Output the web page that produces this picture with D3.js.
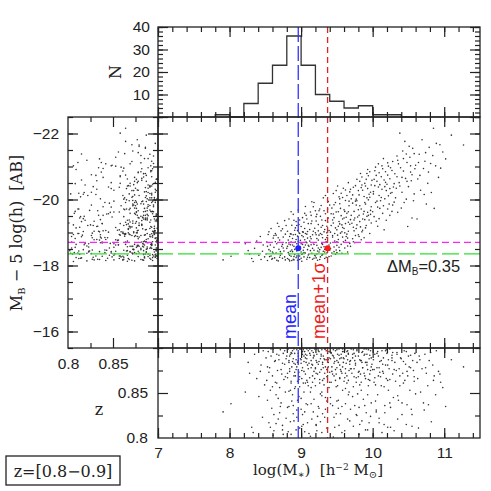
<!DOCTYPE html>
<html>
<head>
<meta charset="utf-8">
<script src="https://cdn.jsdelivr.net/npm/d3@7"></script>
<style>
  body { margin: 0; background: #fff; }
  text { white-space: pre; }
</style>
</head>
<body>
<div id="chart"></div>
<script>
// mass histogram of the galaxies inside the magnitude bin
const histBinStart = [7.8, 8.0, 8.2, 8.4, 8.6, 8.8, 9.0, 9.2, 9.4, 9.6, 9.8, 10.0, 10.2, 10.4];
const histCounts = [1, 0, 6, 15, 23, 36, 23, 10, 7, 4, 5, 1, 1, 0];
const histBinWidth = 0.2;

const meanMass = 8.96;
const meanPlusSigmaMass = 9.37;
const binCentreMag = -18.52;
const binBrightMag = -18.70;
const binFaintMag = -18.35;

const massTicks = [7, 8, 9, 10, 11];
const magTicks = [-22, -20, -18, -16];
const countTicks = [10, 20, 30, 40];
const zTicks = [0.8, 0.85];

// galaxies: [log mass, M_B - 5 log h, z]
const galaxies = [
  [7.91, -18.17, 0.829], [8.02, -18.28, 0.838], [8.22, -18.66, 0.851], [8.28, -18.35, 0.872], [8.31, -18.21, 0.812],
  [8.35, -18.52, 0.893], [8.38, -18.74, 0.866], [8.41, -18.31, 0.846], [8.44, -18.18, 0.881], [8.46, -18.43, 0.823],
  [8.47, -18.62, 0.897], [8.49, -18.26, 0.859], [8.33, -18.12, 0.806], [8.26, -18.45, 0.884], [8.43, -18.88, 0.874],
  [8.51, -18.35, 0.889], [8.52, -18.71, 0.864], [8.53, -18.15, 0.842], [8.54, -18.94, 0.896], [8.55, -18.48, 0.817],
  [8.56, -18.27, 0.878], [8.57, -18.62, 0.853], [8.58, -19.12, 0.891], [8.59, -18.19, 0.833], [8.60, -18.41, 0.869],
  [8.61, -18.83, 0.899], [8.62, -18.55, 0.808], [8.63, -18.23, 0.885], [8.64, -18.97, 0.862], [8.65, -18.38, 0.848],
  [8.66, -18.66, 0.893], [8.67, -19.28, 0.875], [8.68, -18.14, 0.821], [8.69, -18.49, 0.887], [8.70, -18.77, 0.856],
  [8.71, -18.31, 0.898], [8.72, -19.05, 0.839], [8.73, -18.58, 0.871], [8.74, -18.22, 0.814], [8.75, -18.86, 0.894],
  [8.76, -18.44, 0.865], [8.77, -19.36, 0.882], [8.78, -18.17, 0.851], [8.79, -18.69, 0.888], [8.55, -19.02, 0.873],
  [8.58, -18.29, 0.899], [8.62, -18.91, 0.826], [8.66, -18.16, 0.861], [8.69, -19.18, 0.892], [8.72, -18.36, 0.876],
  [8.75, -18.53, 0.804], [8.78, -18.95, 0.868], [8.53, -18.58, 0.879], [8.64, -18.72, 0.886], [8.71, -18.42, 0.835],
  [8.77, -18.26, 0.897], [8.60, -18.21, 0.857], [8.68, -18.84, 0.844], [8.74, -19.11, 0.883], [8.57, -18.44, 0.812],
  [8.80, -18.52, 0.891], [8.81, -18.21, 0.867], [8.81, -19.04, 0.834], [8.82, -18.77, 0.899], [8.83, -18.35, 0.852],
  [8.83, -19.41, 0.886], [8.84, -18.14, 0.874], [8.85, -18.63, 0.818], [8.85, -18.96, 0.893], [8.86, -18.28, 0.861],
  [8.87, -19.22, 0.879], [8.87, -18.47, 0.841], [8.88, -18.82, 0.897], [8.89, -18.19, 0.827], [8.89, -19.55, 0.888],
  [8.90, -18.58, 0.869], [8.91, -18.33, 0.894], [8.91, -19.07, 0.855], [8.92, -18.71, 0.882], [8.93, -18.24, 0.809],
  [8.93, -19.33, 0.876], [8.94, -18.44, 0.898], [8.95, -18.89, 0.863], [8.95, -18.16, 0.884], [8.96, -19.68, 0.891],
  [8.97, -18.53, 0.846], [8.97, -18.99, 0.873], [8.98, -18.29, 0.857], [8.99, -18.76, 0.899], [9.00, -19.18, 0.832],
  [9.00, -18.41, 0.887], [9.01, -18.13, 0.866], [9.02, -18.64, 0.893], [9.02, -19.45, 0.878], [9.03, -18.87, 0.815],
  [9.04, -18.26, 0.885], [9.04, -18.55, 0.851], [9.05, -19.12, 0.896], [9.06, -18.38, 0.871], [9.06, -19.79, 0.889],
  [9.07, -18.71, 0.838], [9.08, -18.19, 0.892], [9.08, -18.95, 0.864], [9.09, -18.48, 0.881], [9.10, -19.27, 0.858],
  [9.10, -18.32, 0.897], [8.82, -18.39, 0.807], [8.84, -18.88, 0.877], [8.86, -19.63, 0.895], [8.88, -18.42, 0.848],
  [8.90, -18.17, 0.883], [8.92, -19.14, 0.869], [8.94, -18.66, 0.823], [8.96, -18.35, 0.886], [8.98, -19.38, 0.899],
  [9.00, -18.22, 0.844], [9.01, -18.91, 0.875], [9.03, -18.46, 0.898], [9.05, -18.78, 0.829], [9.07, -19.52, 0.884],
  [9.09, -18.25, 0.862], [8.83, -18.65, 0.884], [8.87, -18.15, 0.894], [8.91, -18.49, 0.873], [8.95, -19.06, 0.842],
  [8.99, -18.56, 0.888], [9.03, -19.01, 0.861], [9.06, -18.62, 0.893], [9.09, -19.03, 0.817], [8.85, -18.43, 0.853],
  [8.93, -18.79, 0.887], [9.01, -18.34, 0.813], [9.08, -18.69, 0.899], [8.97, -19.24, 0.865], [8.89, -18.93, 0.836],
  [9.04, -19.31, 0.891],
  [9.11, -18.58, 0.883], [9.12, -19.09, 0.867], [9.12, -18.24, 0.894], [9.13, -19.62, 0.851], [9.14, -18.81, 0.878],
  [9.15, -18.37, 0.821], [9.15, -19.35, 0.897], [9.16, -18.19, 0.862], [9.17, -18.69, 0.889], [9.18, -19.91, 0.874],
  [9.18, -18.46, 0.843], [9.19, -19.13, 0.899], [9.20, -18.29, 0.858], [9.21, -18.93, 0.886], [9.21, -19.48, 0.814],
  [9.22, -18.61, 0.893], [9.23, -18.16, 0.871], [9.24, -19.24, 0.882], [9.24, -18.77, 0.835], [9.25, -18.41, 0.896],
  [9.26, -19.71, 0.865], [9.27, -18.97, 0.888], [9.27, -18.26, 0.849], [9.28, -18.55, 0.876], [9.29, -19.38, 0.898],
  [9.30, -18.84, 0.827], [9.30, -18.33, 0.884], [9.31, -20.05, 0.891], [9.32, -19.02, 0.859], [9.33, -18.49, 0.872],
  [9.33, -18.21, 0.899], [9.34, -19.57, 0.845], [9.35, -18.72, 0.887], [9.36, -19.19, 0.868], [9.36, -18.38, 0.811],
  [9.37, -18.91, 0.894], [9.38, -19.44, 0.879], [9.39, -18.62, 0.856], [9.39, -18.27, 0.889], [9.40, -19.83, 0.873],
  [9.11, -18.35, 0.805], [9.13, -18.87, 0.892], [9.14, -19.27, 0.838], [9.16, -18.52, 0.881], [9.17, -19.78, 0.895],
  [9.19, -18.31, 0.866], [9.20, -18.99, 0.877], [9.22, -19.55, 0.899], [9.23, -18.44, 0.824], [9.25, -18.92, 0.885],
  [9.26, -18.18, 0.861], [9.28, -19.16, 0.893], [9.29, -18.67, 0.847], [9.31, -18.43, 0.878], [9.32, -19.66, 0.888],
  [9.34, -18.79, 0.832], [9.35, -18.25, 0.897], [9.37, -19.32, 0.869], [9.38, -18.56, 0.884], [9.14, -18.63, 0.856],
  [9.18, -18.22, 0.891], [9.21, -19.35, 0.872], [9.24, -18.53, 0.899], [9.27, -19.49, 0.818], [9.30, -18.64, 0.864],
  [9.33, -19.09, 0.887], [9.36, -18.85, 0.841], [9.39, -19.06, 0.896], [9.15, -19.93, 0.882], [9.29, -18.31, 0.851],
  [9.34, -20.12, 0.879], [9.22, -18.82, 0.808],
  [9.41, -18.51, 0.888], [9.42, -19.21, 0.862], [9.42, -18.29, 0.895], [9.43, -19.74, 0.874], [9.44, -18.86, 0.836],
  [9.45, -20.18, 0.891], [9.46, -18.42, 0.869], [9.46, -19.45, 0.883], [9.47, -18.97, 0.812], [9.48, -18.34, 0.897],
  [9.49, -19.62, 0.857], [9.50, -19.08, 0.886], [9.50, -18.61, 0.878], [9.51, -20.41, 0.893], [9.52, -18.79, 0.842],
  [9.53, -19.33, 0.899], [9.54, -18.45, 0.866], [9.54, -19.87, 0.881], [9.55, -18.98, 0.827], [9.56, -19.51, 0.889],
  [9.57, -18.37, 0.872], [9.58, -20.06, 0.896], [9.58, -19.15, 0.853], [9.59, -18.72, 0.884], [9.60, -19.69, 0.863],
  [9.61, -18.53, 0.898], [9.62, -20.29, 0.877], [9.62, -19.27, 0.838], [9.63, -18.88, 0.891], [9.64, -19.58, 0.869],
  [9.65, -18.41, 0.887], [9.66, -20.51, 0.848], [9.66, -19.04, 0.894], [9.67, -19.81, 0.875], [9.68, -18.67, 0.819],
  [9.69, -19.39, 0.886], [9.70, -20.02, 0.899], [9.41, -19.01, 0.845], [9.43, -18.38, 0.879], [9.45, -19.56, 0.898],
  [9.47, -18.74, 0.885], [9.49, -20.27, 0.871], [9.51, -18.92, 0.858], [9.53, -18.55, 0.892], [9.55, -19.73, 0.876],
  [9.57, -19.23, 0.806], [9.59, -20.34, 0.889], [9.61, -18.99, 0.867], [9.63, -19.46, 0.883], [9.65, -18.83, 0.897],
  [9.67, -19.95, 0.851], [9.69, -18.58, 0.877], [9.44, -19.38, 0.892], [9.48, -19.91, 0.864], [9.52, -19.19, 0.833],
  [9.56, -18.64, 0.874], [9.60, -19.12, 0.896], [9.64, -20.12, 0.861], [9.68, -19.25, 0.882], [9.46, -18.56, 0.823],
  [9.54, -20.02, 0.888], [9.62, -18.76, 0.855], [9.58, -19.41, 0.899], [9.50, -18.39, 0.841], [9.66, -19.63, 0.893],
  [9.71, -19.28, 0.872], [9.72, -18.81, 0.889], [9.73, -20.37, 0.857], [9.74, -19.64, 0.894], [9.75, -18.69, 0.836],
  [9.76, -19.95, 0.883], [9.77, -19.12, 0.867], [9.78, -20.61, 0.898], [9.79, -19.47, 0.849], [9.80, -18.93, 0.891],
  [9.81, -20.14, 0.874], [9.82, -19.33, 0.815], [9.83, -20.79, 0.886], [9.84, -19.71, 0.862], [9.85, -19.02, 0.895],
  [9.86, -20.28, 0.878], [9.87, -19.56, 0.843], [9.88, -18.84, 0.899], [9.89, -20.49, 0.869], [9.90, -19.86, 0.884],
  [9.91, -19.21, 0.828], [9.92, -20.05, 0.893], [9.93, -19.61, 0.876], [9.94, -20.72, 0.858], [9.95, -19.38, 0.888],
  [9.96, -18.97, 0.864], [9.97, -20.22, 0.897], [9.98, -19.78, 0.839], [9.99, -20.58, 0.882], [9.72, -19.89, 0.846],
  [9.74, -19.05, 0.877], [9.76, -20.42, 0.891], [9.78, -19.23, 0.825], [9.80, -19.69, 0.868], [9.82, -20.55, 0.887],
  [9.84, -18.78, 0.853], [9.86, -19.41, 0.896], [9.88, -20.09, 0.872], [9.90, -19.14, 0.809], [9.92, -19.49, 0.881],
  [9.94, -19.99, 0.865], [9.96, -20.84, 0.892], [9.98, -19.29, 0.879], [9.73, -18.72, 0.898], [9.77, -20.01, 0.862],
  [9.81, -19.52, 0.834], [9.85, -20.68, 0.884], [9.89, -19.91, 0.893], [9.93, -20.33, 0.848], [9.97, -19.55, 0.875],
  [9.75, -19.44, 0.886], [9.83, -19.17, 0.871], [9.91, -20.61, 0.899], [9.95, -20.16, 0.817],
  [10.01, -20.24, 0.887], [10.02, -19.48, 0.862], [10.03, -20.87, 0.893], [10.04, -19.91, 0.841], [10.06, -20.55, 0.878],
  [10.07, -19.19, 0.896], [10.08, -21.08, 0.869], [10.09, -20.12, 0.822], [10.10, -19.73, 0.885], [10.12, -20.69, 0.858],
  [10.13, -20.31, 0.897], [10.14, -19.58, 0.874], [10.15, -21.24, 0.889], [10.17, -20.02, 0.836], [10.18, -20.84, 0.881],
  [10.19, -19.37, 0.866], [10.20, -20.46, 0.894], [10.22, -21.01, 0.853], [10.23, -19.86, 0.877], [10.24, -20.63, 0.899],
  [10.25, -20.19, 0.812], [10.27, -19.64, 0.886], [10.28, -21.15, 0.871], [10.29, -20.38, 0.845], [10.02, -20.61, 0.876],
  [10.05, -19.34, 0.829], [10.08, -20.38, 0.891], [10.11, -19.96, 0.868], [10.14, -20.93, 0.882], [10.16, -19.08, 0.857],
  [10.19, -20.27, 0.898], [10.21, -20.74, 0.864], [10.24, -19.52, 0.839], [10.27, -20.88, 0.892], [10.04, -20.98, 0.859],
  [10.10, -20.45, 0.873], [10.16, -20.59, 0.815], [10.22, -20.11, 0.887], [10.28, -19.83, 0.895], [10.07, -19.77, 0.848],
  [10.31, -20.78, 0.884], [10.32, -20.05, 0.863], [10.34, -21.32, 0.895], [10.35, -19.61, 0.847], [10.37, -20.51, 0.877],
  [10.38, -22.01, 0.858], [10.39, -20.96, 0.889], [10.41, -20.22, 0.826], [10.42, -21.47, 0.872], [10.44, -19.91, 0.897],
  [10.45, -21.76, 0.864], [10.46, -20.64, 0.882], [10.48, -21.12, 0.837], [10.49, -19.18, 0.869], [10.50, -20.39, 0.891],
  [10.52, -21.28, 0.853], [10.53, -20.83, 0.878], [10.55, -19.44, 0.813], [10.56, -21.55, 0.886], [10.58, -20.17, 0.868],
  [10.59, -20.93, 0.894], [10.33, -20.34, 0.875], [10.36, -21.08, 0.842], [10.40, -19.74, 0.888], [10.43, -20.86, 0.861],
  [10.47, -20.01, 0.896], [10.51, -21.61, 0.879], [10.54, -20.57, 0.832], [10.57, -19.96, 0.875], [10.60, -21.04, 0.849],
  [10.62, -19.41, 0.884], [10.63, -20.62, 0.866], [10.65, -21.37, 0.891], [10.67, -20.28, 0.851], [10.69, -21.81, 0.877],
  [10.71, -20.94, 0.839], [10.73, -21.16, 0.893], [10.75, -19.86, 0.872], [10.77, -20.49, 0.858], [10.79, -21.58, 0.886],
  [10.82, -20.21, 0.818], [10.84, -21.33, 0.881], [10.85, -22.16, 0.864], [10.86, -19.73, 0.869], [10.88, -21.02, 0.848],
  [10.89, -21.70, 0.897], [10.92, -20.67, 0.874], [10.95, -20.95, 0.862], [11.02, -21.23, 0.835], [11.10, -21.95, 0.887],
  [11.27, -21.65, 0.879], [10.98, -21.44, 0.856], [10.72, -20.15, 0.831],
  [8.61, -18.37, 0.803], [8.65, -18.92, 0.816], [8.70, -18.25, 0.828], [8.74, -18.64, 0.809], [8.79, -19.21, 0.822],
  [8.83, -18.18, 0.835], [8.86, -18.71, 0.804], [8.90, -19.37, 0.819], [8.94, -18.29, 0.831], [8.98, -18.97, 0.811],
  [9.02, -18.36, 0.826], [9.05, -19.58, 0.807], [9.09, -18.83, 0.837], [9.13, -18.45, 0.802], [9.17, -19.04, 0.829],
  [9.21, -18.23, 0.815], [9.25, -19.66, 0.833], [9.29, -18.94, 0.806], [9.33, -18.41, 0.823], [9.37, -19.71, 0.811],
  [9.41, -18.68, 0.838], [9.45, -19.29, 0.801], [9.49, -18.47, 0.827], [9.53, -20.08, 0.814], [9.57, -19.02, 0.835],
  [9.61, -19.64, 0.808], [9.65, -18.59, 0.821], [9.69, -20.31, 0.832], [9.73, -19.16, 0.813], [9.77, -19.83, 0.826],
  [9.81, -18.88, 0.804], [9.85, -20.44, 0.819], [9.89, -19.39, 0.836], [9.93, -20.91, 0.809], [9.97, -19.67, 0.824],
  [10.01, -20.17, 0.803], [10.05, -20.73, 0.831], [10.09, -19.42, 0.817], [10.13, -21.02, 0.806], [10.17, -20.39, 0.828],
  [10.21, -19.71, 0.812], [10.25, -20.96, 0.834], [10.30, -20.48, 0.808], [10.35, -21.19, 0.821], [10.41, -20.67, 0.839],
  [10.47, -21.38, 0.815], [10.55, -20.75, 0.826], [10.64, -21.12, 0.811], [10.78, -20.83, 0.837],
  [8.81, -18.58, 0.872], [8.84, -18.31, 0.891], [8.86, -18.95, 0.863], [8.88, -18.62, 0.885], [8.90, -18.27, 0.899],
  [8.92, -18.94, 0.857], [8.94, -19.21, 0.879], [8.96, -18.72, 0.894], [8.98, -18.18, 0.868], [9.00, -18.66, 0.883],
  [9.02, -19.02, 0.896], [9.04, -18.39, 0.874], [9.06, -18.97, 0.861], [9.08, -19.41, 0.888], [9.10, -18.61, 0.877],
  [9.12, -18.74, 0.899], [9.14, -19.52, 0.886], [9.16, -18.93, 0.869], [9.18, -18.64, 0.892], [9.20, -19.66, 0.878],
  [9.22, -18.35, 0.884], [9.24, -19.05, 0.897], [9.26, -18.48, 0.873], [9.28, -19.82, 0.891], [9.30, -19.21, 0.882],
  [9.32, -18.57, 0.866], [9.34, -19.36, 0.899], [9.36, -18.99, 0.876], [9.38, -19.94, 0.887], [9.40, -18.46, 0.862],
  [9.42, -19.57, 0.894], [9.44, -18.91, 0.871], [9.46, -19.84, 0.889], [9.48, -19.14, 0.876], [9.50, -18.72, 0.898],
  [9.52, -19.63, 0.884], [9.54, -19.26, 0.867], [9.56, -20.19, 0.893], [9.58, -18.86, 0.879], [9.60, -19.44, 0.888],
  [9.62, -19.97, 0.872], [9.64, -18.95, 0.896], [9.66, -19.31, 0.864], [9.68, -20.23, 0.885], [9.70, -19.52, 0.877],
  [9.72, -20.14, 0.893], [9.74, -19.38, 0.868], [9.76, -18.91, 0.881], [9.78, -19.96, 0.897], [9.80, -20.27, 0.873],
  [9.82, -19.81, 0.859], [9.84, -20.36, 0.886], [9.86, -19.07, 0.878], [9.88, -19.64, 0.892], [9.90, -20.41, 0.866],
  [9.92, -20.79, 0.884], [9.94, -19.52, 0.898], [9.96, -20.07, 0.871], [9.98, -20.44, 0.889], [10.00, -19.63, 0.876],
  [10.03, -20.42, 0.867], [10.06, -19.95, 0.894], [10.09, -20.81, 0.878], [10.12, -20.06, 0.886], [10.15, -19.81, 0.872],
  [10.18, -20.52, 0.897], [10.21, -21.11, 0.881], [10.24, -20.33, 0.865], [10.27, -20.21, 0.889], [10.30, -19.92, 0.876],
  [10.34, -20.69, 0.893], [10.38, -20.41, 0.869], [10.43, -21.24, 0.885], [10.48, -20.55, 0.874], [10.53, -21.02, 0.892],
  [10.58, -21.39, 0.863], [10.66, -20.73, 0.887], [10.74, -21.42, 0.878], [10.81, -21.09, 0.895], [10.94, -21.66, 0.871],
];

const ink = '#222';
const serif = 'DejaVu Serif';
const sans = 'Liberation Sans';

const svg = d3.select('#chart').append('svg')
    .attr('width', 491)
    .attr('height', 491)
    .style('background', '#fff');

const xMass = d3.scaleLinear().domain([7, 11.5]).range([158, 480]);
const yMag = d3.scaleLinear().domain([-22.5, -15.5]).range([117, 348]);
const yN = d3.scaleLinear().domain([0, 40]).range([117, 27]);
const xZ = d3.scaleLinear().domain([0.8, 0.9]).range([68, 158]);
const yZ = d3.scaleLinear().domain([0.8, 0.9]).range([438, 348]);

const massMinor = d3.range(7, 11.51, 0.2);
const magMinor = d3.range(-22.5, -15.49, 0.5);
const zMinor = [0.825, 0.875];

// points
function scatter(xs, ys, fx, fy) {
  svg.append('g').selectAll('circle')
      .data(galaxies)
      .join('circle')
      .attr('cx', (d) => xs(fx(d)))
      .attr('cy', (d) => ys(fy(d)))
      .attr('r', 0.8)
      .attr('fill', '#333');
}
scatter(xMass, yMag, (d) => d[0], (d) => d[1]);
scatter(xZ, yMag, (d) => d[2], (d) => d[1]);
scatter(xMass, yZ, (d) => d[0], (d) => d[2]);

// histogram
const histPts = [[histBinStart[0], 0]]
    .concat(histBinStart.map((b, i) => [b, histCounts[i]]))
    .concat([[histBinStart[histBinStart.length - 1] + histBinWidth, 0]]);
svg.append('path')
    .attr('d', d3.line().x((d) => xMass(d[0])).y((d) => yN(d[1])).curve(d3.curveStepAfter)(histPts))
    .attr('fill', 'none')
    .attr('stroke', '#333')
    .attr('stroke-width', 1.3);

// reference lines
function vline(m, color, dash) {
  svg.append('line')
      .attr('x1', xMass(m)).attr('x2', xMass(m))
      .attr('y1', yN(40)).attr('y2', yZ(0.8))
      .attr('stroke', color).attr('stroke-width', 1.3)
      .attr('stroke-dasharray', dash);
}
function hline(mag, color, dash) {
  svg.append('line')
      .attr('x1', xZ(0.8)).attr('x2', xMass(11.5))
      .attr('y1', yMag(mag)).attr('y2', yMag(mag))
      .attr('stroke', color).attr('stroke-width', 1.3)
      .attr('stroke-dasharray', dash);
}
hline(binBrightMag, '#ff22ff', '7,4');
hline(binFaintMag, '#2ee02e', '17,5');
vline(meanMass, '#3333ff', '15,4');
vline(meanPlusSigmaMass, '#e02222', '6,4');

svg.append('circle').attr('cx', xMass(meanMass)).attr('cy', yMag(binCentreMag))
    .attr('r', 3).attr('fill', '#2222ff');
svg.append('circle').attr('cx', xMass(meanPlusSigmaMass)).attr('cy', yMag(binCentreMag))
    .attr('r', 3).attr('fill', '#ff1a1a');

// frames with inward ticks
function frame(xs, ys, xMajor, xMinorT, yMajor, yMinorT) {
  const left = d3.min(xs.range());
  const right = d3.max(xs.range());
  const top = d3.min(ys.range());
  const bottom = d3.max(ys.range());
  const g = svg.append('g').attr('color', ink);
  const tickSet = (axis, scale, values, size, tr) => g.append('g')
      .attr('transform', tr)
      .call(axis(scale).tickValues(values).tickSize(-size).tickFormat(''))
      .call((s) => s.select('.domain').remove())
      .call((s) => s.selectAll('line').attr('stroke-width', 1.2));
  [[d3.axisBottom, `translate(0,${bottom})`], [d3.axisTop, `translate(0,${top})`]]
      .forEach(([axis, tr]) => {
        tickSet(axis, xs, xMajor, 10, tr);
        tickSet(axis, xs, xMinorT, 5, tr);
      });
  [[d3.axisLeft, `translate(${left},0)`], [d3.axisRight, `translate(${right},0)`]]
      .forEach(([axis, tr]) => {
        tickSet(axis, ys, yMajor, 10, tr);
        tickSet(axis, ys, yMinorT, 5, tr);
      });
  g.append('rect')
      .attr('x', left).attr('y', top)
      .attr('width', right - left).attr('height', bottom - top)
      .attr('fill', 'none').attr('stroke', ink).attr('stroke-width', 1.3);
}
frame(xMass, yN, massTicks, massMinor, [0, 10, 20, 30, 40], d3.range(0, 41, 2));
frame(xZ, yMag, [0.85], zMinor, magTicks, magMinor);
frame(xMass, yMag, massTicks, massMinor, magTicks, magMinor);
frame(xMass, yZ, massTicks, massMinor, [0.85], zMinor);

// tick labels
function labels(axis, scale, values, pad, tr, fmt) {
  svg.append('g')
      .attr('transform', tr)
      .call(axis(scale).tickValues(values).tickSize(0).tickPadding(pad).tickFormat(fmt))
      .call((s) => s.select('.domain').remove())
      .attr('font-family', sans)
      .attr('font-size', 15.5)
      .attr('color', ink);
}
labels(d3.axisLeft, yN, countTicks, 8, 'translate(158,0)', d3.format('d'));
labels(d3.axisLeft, yMag, magTicks, 9, 'translate(68,0)', d3.format('d'));
labels(d3.axisBottom, xZ, zTicks, 10, 'translate(0,348)', d3.format(''));
labels(d3.axisLeft, yZ, zTicks, 10, 'translate(158,0)', d3.format(''));
labels(d3.axisBottom, xMass, massTicks, 9, 'translate(0,438)', d3.format('d'));

// annotations
const dm = svg.append('text').attr('x', 387).attr('y', 272)
    .attr('font-family', sans).attr('font-size', 16.5).attr('fill', ink);
dm.append('tspan').text('ΔM');
dm.append('tspan').attr('font-size', 10).attr('dy', 3).text('B');
dm.append('tspan').attr('dy', -3).text('=0.35');

svg.append('text')
    .attr('transform', `translate(${xMass(meanMass) - 2.5},339) rotate(-90)`)
    .attr('font-family', sans).attr('font-size', 18).attr('fill', '#2222ff')
    .text('mean');
svg.append('text')
    .attr('transform', `translate(${xMass(meanPlusSigmaMass) - 2.5},339) rotate(-90)`)
    .attr('font-family', sans).attr('font-size', 18).attr('fill', '#ee1c1c')
    .text('mean+1σ');

svg.append('text')
    .attr('transform', 'translate(121,72) rotate(-90)')
    .attr('text-anchor', 'middle')
    .attr('font-family', serif).attr('font-size', 16).attr('fill', ink)
    .text('N');

const yTitle = svg.append('text')
    .attr('transform', 'translate(22,233) rotate(-90)')
    .attr('text-anchor', 'middle')
    .attr('font-family', serif).attr('font-size', 16).attr('fill', ink);
yTitle.append('tspan').text('M');
yTitle.append('tspan').attr('font-size', 10).attr('dy', 3).text('B');
yTitle.append('tspan').attr('dy', -3).text(' − 5 log(h)  [AB]');

const xTitle = svg.append('text')
    .attr('x', 318).attr('y', 475)
    .attr('text-anchor', 'middle')
    .attr('font-family', serif).attr('font-size', 15).attr('fill', ink);
xTitle.append('tspan').text('log(M');
xTitle.append('tspan').attr('font-size', 10).attr('dy', 3).text('∗');
xTitle.append('tspan').attr('dy', -3).text(')  [h');
xTitle.append('tspan').attr('font-size', 9).attr('dy', -5).text('−2');
xTitle.append('tspan').attr('dy', 5).text(' M');
xTitle.append('tspan').attr('font-size', 10).attr('dy', 3).text('⊙');
xTitle.append('tspan').attr('dy', -3).text(']');

svg.append('text')
    .attr('x', 99).attr('y', 415)
    .attr('text-anchor', 'middle')
    .attr('font-family', serif).attr('font-size', 16).attr('fill', ink)
    .text('z');

svg.append('rect')
    .attr('x', 6).attr('y', 456).attr('width', 114).attr('height', 29)
    .attr('fill', 'none').attr('stroke', ink).attr('stroke-width', 1.3);
svg.append('text')
    .attr('x', 63).attr('y', 477)
    .attr('text-anchor', 'middle')
    .attr('font-family', serif).attr('font-size', 16).attr('fill', ink)
    .text('z=[0.8−0.9]');
</script>
</body>
</html>
